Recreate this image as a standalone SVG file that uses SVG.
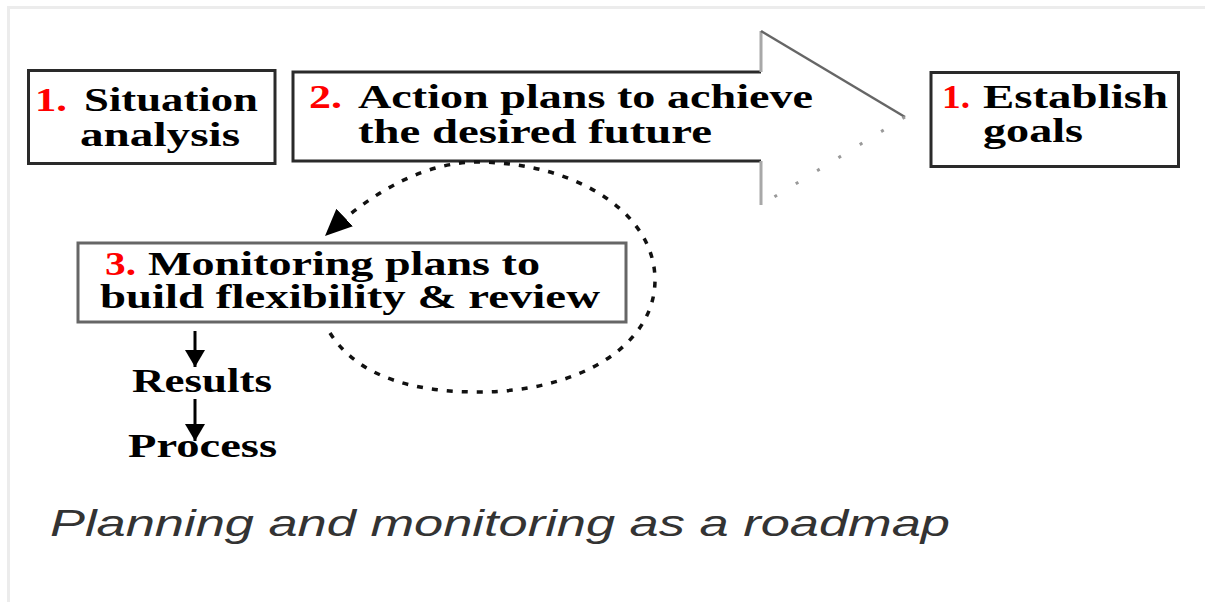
<svg xmlns="http://www.w3.org/2000/svg" width="1205" height="602" viewBox="0 0 1205 602">
  <style>
    .frame { fill: none; stroke: #ececec; stroke-width: 3; }
    .box { fill: #ffffff; stroke: #2a2a2a; stroke-width: 3; }
    .box-grey { fill: #ffffff; stroke: #666666; stroke-width: 3; }
    .lbl { font-family: "Liberation Serif", "Times New Roman", serif; font-weight: bold; font-size: 33px; fill: #000000; }
    .num { font-family: "Liberation Serif", "Times New Roman", serif; font-weight: bold; font-size: 33px; fill: #ff0000; }
    .shaft { fill: none; stroke: #2a2a2a; stroke-width: 3; }
    .head-edge { fill: none; stroke: #a8a8a8; stroke-width: 3; }
    .head-diag { fill: none; stroke: #666666; stroke-width: 2.5; }
    .head-faint { fill: none; stroke: #999999; stroke-width: 3; stroke-dasharray: 3 22; }
    .loop { fill: none; stroke: #111111; stroke-width: 3.5; stroke-dasharray: 6 9; }
    .down { fill: none; stroke: #000000; stroke-width: 3; }
    .caption { font-family: "Liberation Sans", Arial, sans-serif; font-style: italic; font-size: 36px; fill: #333333; }
  </style>
  <defs>
    <marker id="headBig" markerUnits="userSpaceOnUse" markerWidth="28" markerHeight="26" refX="27" refY="13" orient="auto">
      <path d="M0,1 L27,13 L0,25 Z" fill="#000000"/>
    </marker>
    <marker id="headSmall" markerUnits="userSpaceOnUse" markerWidth="18" markerHeight="24" refX="17" refY="12" orient="auto">
      <path d="M0,2 L17,12 L0,22 Z" fill="#000000"/>
    </marker>
  </defs>

  <rect width="1205" height="602" fill="#ffffff"/>
  <!-- page frame -->
  <path class="frame" d="M1205,7.5 L8.5,7.5 L8.5,602"/>

  <!-- 1. Situation analysis -->
  <g id="situation">
    <rect class="box" x="28.5" y="70.5" width="246.5" height="93"/>
    <text class="num" x="35" y="111" textLength="32" lengthAdjust="spacingAndGlyphs">1.</text>
    <text class="lbl" x="84" y="111" textLength="174" lengthAdjust="spacingAndGlyphs">Situation</text>
    <text class="lbl" x="80" y="146" textLength="160" lengthAdjust="spacingAndGlyphs">analysis</text>
  </g>

  <!-- 2. Block arrow: action plans -->
  <g id="action-plans">
    <path d="M293,72 L761,72 L761,30 L905,117 L761,205 L761,161 L293,161 Z" fill="#ffffff"/>
    <path class="shaft" d="M761,72 L293,72 L293,161 L761,161"/>
    <path class="head-edge" d="M761,72 L761,31 M761,161 L761,205"/>
    <path class="head-diag" d="M761,31 L905,117"/>
    <path class="head-faint" d="M905,117 L761,205"/>
    <text class="num" x="309" y="108" textLength="33" lengthAdjust="spacingAndGlyphs">2.</text>
    <text class="lbl" x="358" y="108" textLength="455" lengthAdjust="spacingAndGlyphs">Action plans to achieve</text>
    <text class="lbl" x="358" y="143" textLength="354" lengthAdjust="spacingAndGlyphs">the desired future</text>
  </g>

  <!-- 1. Establish goals -->
  <g id="establish-goals">
    <rect class="box" x="931" y="72.5" width="247.5" height="94"/>
    <text class="num" x="942" y="108" textLength="28" lengthAdjust="spacingAndGlyphs">1.</text>
    <text class="lbl" x="983" y="108" textLength="185" lengthAdjust="spacingAndGlyphs">Establish</text>
    <text class="lbl" x="983" y="142" textLength="100" lengthAdjust="spacingAndGlyphs">goals</text>
  </g>

  <!-- 3. Monitoring plans -->
  <g id="monitoring">
    <rect class="box-grey" x="78" y="243" width="548" height="79"/>
    <text class="num" x="105" y="275" textLength="31" lengthAdjust="spacingAndGlyphs">3.</text>
    <text class="lbl" x="148" y="275" textLength="392" lengthAdjust="spacingAndGlyphs">Monitoring plans to</text>
    <text class="lbl" x="100" y="308" textLength="500" lengthAdjust="spacingAndGlyphs">build flexibility &amp; review</text>
  </g>

  <!-- Results -->
  <g id="results">
    <text class="lbl" x="132" y="392" textLength="140" lengthAdjust="spacingAndGlyphs">Results</text>
  </g>

  <!-- Process -->
  <g id="process">
    <text class="lbl" x="128" y="457" textLength="149" lengthAdjust="spacingAndGlyphs">Process</text>
  </g>

  <!-- connectors -->
  <g id="connectors">
    <path class="loop" marker-end="url(#headBig)" d="M330,333 C360,380 420,392 478,392 C580,392 655,345 655,280 C655,215 580,163 478,162 C430,162 378,186 325,236"/>
    <path class="down" marker-end="url(#headSmall)" d="M195,331 L195,367"/>
    <path class="down" marker-end="url(#headSmall)" d="M195,399 L195,441"/>
  </g>

  <text class="caption" x="50" y="536" textLength="900" lengthAdjust="spacingAndGlyphs">Planning and monitoring as a roadmap</text>
</svg>
